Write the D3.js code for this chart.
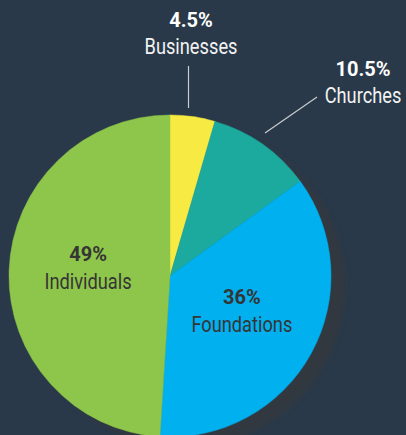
<!DOCTYPE html>
<html>
<head>
<meta charset="utf-8">
<script src="https://cdn.jsdelivr.net/npm/d3@7"></script>
<style>
  html, body { margin: 0; padding: 0; background: #293949; }
  svg { display: block; }
</style>
</head>
<body>
<div id="chart"></div>
<script>
// funding sources, clockwise from 12 o'clock
const categories = ["Businesses", "Churches", "Foundations", "Individuals"];
const shares = [4.5, 10.5, 36, 49];
const shareLabels = ["4.5%", "10.5%", "36%", "49%"];
const sliceColors = ["#f7ea42", "#1ca99e", "#01b0ee", "#8ec64b"];

const width = 406, height = 435;
const cx = 170, cy = 276, r = 161;

let data = categories.map((c, i) => ({ name: c, value: shares[i], label: shareLabels[i], color: sliceColors[i] }));

let svg = d3.select('#chart')
    .append('svg')
    .attr('width', width)
    .attr('height', height);

svg.append('rect')
    .attr('width', width)
    .attr('height', height)
    .attr('fill', '#293949');

let defs = svg.append('defs');
let blur = defs.append('filter').attr('id', 'shadow').attr('x', '-20%').attr('y', '-20%').attr('width', '140%').attr('height', '140%');
blur.append('feGaussianBlur').attr('stdDeviation', 2.5);

let pie = d3.pie().sort(null).value(d => d.value);
let arcs = pie(data);

let arc = d3.arc().innerRadius(0).outerRadius(r);
let labelArc = d3.arc().innerRadius(82).outerRadius(82);

// drop shadow behind the pie
svg.append('circle')
    .attr('cx', cx + 14)
    .attr('cy', cy + 10)
    .attr('r', r)
    .attr('fill', '#33373f')
    .attr('filter', 'url(#shadow)');

let g = svg.append('g')
    .attr('transform', "translate(" + cx + "," + cy + ")");

g.selectAll('path')
    .data(arcs)
    .enter()
    .append('path')
    .attr('d', arc)
    .attr('fill', d => d.data.color)
    .attr('stroke', d => d.data.color)
    .attr('stroke-width', 0.5);

const pctFont = "Roboto, 'Liberation Sans', sans-serif";
const nameFont = "Roboto, 'Liberation Sans', sans-serif";
const squeeze = 0.83; // condensed look for the category names

function addName(parent, x, y, txt, fill) {
    parent.append('text')
        .attr('transform', "translate(" + x + "," + y + ") scale(" + squeeze + ",1)")
        .attr('text-anchor', 'middle')
        .attr('font-family', nameFont)
        .attr('font-size', 22)
        .attr('fill', fill)
        .text(txt);
}

// big slices: labels inside
let inside = arcs.filter(d => d.data.value > 20);
inside.forEach(d => {
    let c = labelArc.centroid(d);
    let t = g.append('g').attr('transform', "translate(" + c[0] + "," + c[1] + ")");
    t.append('text')
        .attr('y', -12)
        .attr('text-anchor', 'middle')
        .attr('font-family', pctFont)
        .attr('font-weight', 'bold')
        .attr('font-size', 20)
        .attr('fill', '#353535')
        .text(d.data.label);
    addName(t, 0, 16, d.data.name, '#353535');
});

// small slices: labels outside with leader lines
let outsideLayout = {
    "Businesses": { tx: 191, ty: 27, line: [[188.5, 66], [188.5, 108]] },
    "Churches": { tx: 363, ty: 76, line: [[265, 133], [317, 97]] }
};

arcs.filter(d => d.data.value <= 20).forEach(d => {
    let o = outsideLayout[d.data.name];
    svg.append('line')
        .attr('x1', o.line[0][0]).attr('y1', o.line[0][1])
        .attr('x2', o.line[1][0]).attr('y2', o.line[1][1])
        .attr('stroke', '#c9ccd0')
        .attr('stroke-width', 1.2);
    svg.append('text')
        .attr('x', o.tx)
        .attr('y', o.ty)
        .attr('text-anchor', 'middle')
        .attr('font-family', pctFont)
        .attr('font-weight', 'bold')
        .attr('font-size', 20)
        .attr('fill', '#ffffff')
        .text(d.data.label);
    addName(svg, o.tx, o.ty + 27, d.data.name, '#f2f2f2');
});
</script>
</body>
</html>
